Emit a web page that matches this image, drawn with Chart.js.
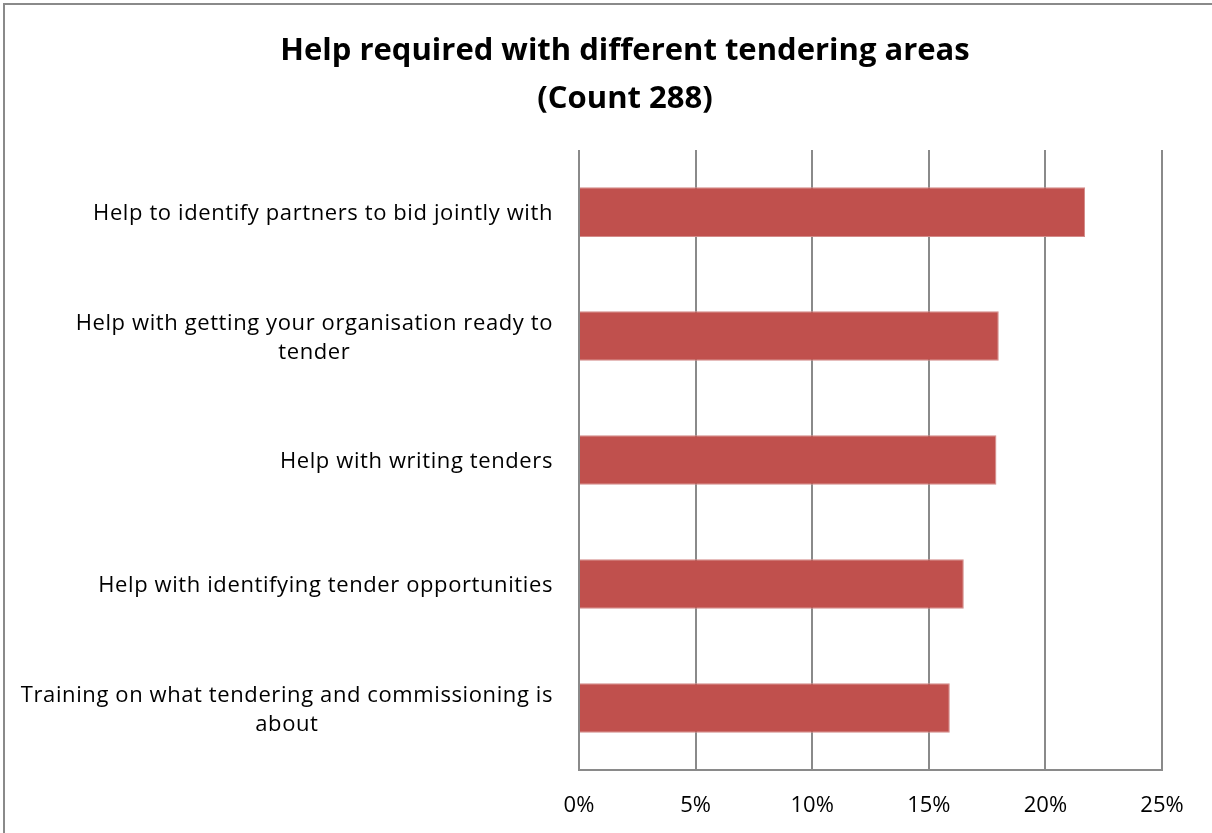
<!DOCTYPE html>
<html>
<head>
<meta charset="utf-8">
<script src="https://cdn.jsdelivr.net/npm/chart.js@4.4.1/dist/chart.umd.min.js"></script>
<style>
  html, body { margin: 0; padding: 0; background: #fff; }
  #wrap { width: 1212px; height: 833px; position: relative; }
</style>
</head>
<body>
<div id="wrap"><canvas id="chart"></canvas></div>
<script>
// categories (wrapped the way they appear on the axis)
const categories = [
    ["Help to identify partners to bid jointly with"],
    ["Help with getting your organisation ready to", "tender"],
    ["Help with writing tenders"],
    ["Help with identifying tender opportunities"],
    ["Training on what tendering and commissioning is", "about"]
];
// share of responses, percent
const shares = [21.7, 18.0, 17.9, 16.5, 15.9];
const xTicks = [0, 5, 10, 15, 20, 25];
const titleLines = ["Help required with different tendering areas", "(Count 288)"];

const FONT = "'Open Sans', sans-serif";
const GRID = "#8a8a8a";

// grey frame around the chart
const framePlugin = {
    id: "frame",
    beforeDraw(chart) {
        let ctx = chart.ctx;
        ctx.save();
        ctx.strokeStyle = "#8a8a8a";
        ctx.lineWidth = 2;
        ctx.beginPath();
        ctx.moveTo(4, chart.height);
        ctx.lineTo(4, 4);
        ctx.lineTo(chart.width, 4);
        ctx.stroke();
        ctx.restore();
    }
};

// category labels: right-aligned block, extra lines centred under the first
const labelPlugin = {
    id: "catLabels",
    afterDraw(chart) {
        let ctx = chart.ctx;
        let yScale = chart.scales.y;
        let right = chart.chartArea.left - 26;
        let lh = 29;
        ctx.save();
        ctx.font = "22px " + FONT;
        ctx.letterSpacing = "0.6px";
        ctx.fillStyle = "#000";
        ctx.textAlign = "center";
        ctx.textBaseline = "middle";
        categories.forEach((lines, i) => {
            let y = yScale.getPixelForValue(i) + 2;
            let w = Math.max(...lines.map(l => ctx.measureText(l).width));
            let cx = right - w / 2;
            let y0 = y - (lines.length - 1) * lh / 2;
            lines.forEach((l, j) => ctx.fillText(l, cx, y0 + j * lh));
        });
        ctx.restore();
    }
};

new Chart(document.getElementById("chart"), {
    type: "bar",
    data: {
        labels: categories,
        datasets: [{
            data: shares,
            backgroundColor: "#C0504D",
            borderColor: "#D38B89",
            borderWidth: 1,
            barPercentage: 0.4,
            categoryPercentage: 1
        }]
    },
    options: {
        indexAxis: "y",
        responsive: true,
        maintainAspectRatio: false,
        animation: false,
        layout: { padding: { left: 38, right: 0, top: 0, bottom: 0 } },
        plugins: {
            legend: { display: false },
            tooltip: { enabled: false },
            title: {
                display: true,
                text: titleLines,
                color: "#000",
                font: { family: FONT, size: 31, weight: "bold", lineHeight: 1.55 },
                padding: { top: 27, bottom: 27 }
            }
        },
        scales: {
            x: {
                min: 0,
                max: 25,
                afterBuildTicks: s => { s.ticks = xTicks.map(v => ({ value: v })); },
                afterFit: s => { s.height = 63; s.paddingRight = 50; },
                grid: { color: GRID, lineWidth: 2, drawTicks: false },
                border: { color: GRID, width: 2 },
                ticks: {
                    color: "#000",
                    padding: 23,
                    font: { family: FONT, size: 22 },
                    callback: v => v + "%"
                }
            },
            y: {
                afterFit: s => { s.width = 541; },
                grid: { display: false },
                border: { display: false },
                ticks: { display: false }
            }
        }
    },
    plugins: [framePlugin, labelPlugin]
});
</script>
</body>
</html>
